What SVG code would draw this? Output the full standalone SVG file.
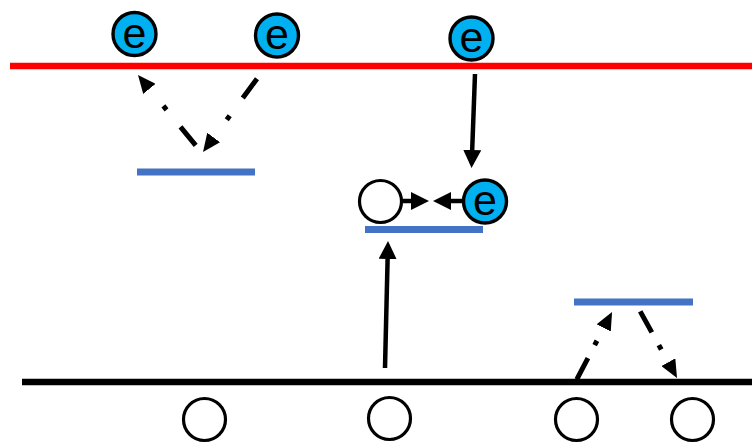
<svg xmlns="http://www.w3.org/2000/svg" width="752" height="443" viewBox="0 0 752 443">
<style>
.band{stroke-width:6.5;fill:none}
.lvl{stroke:#4472C4;stroke-width:7;fill:none}
.ec{fill:#00B0F0;stroke:#000;stroke-width:3.4}
.h{fill:#fff;stroke:#000;stroke-width:3.2}
.et{font-family:"Liberation Sans",Arial,sans-serif;font-size:43px;fill:#000;text-anchor:middle}
.sol{stroke:#000;stroke-width:4.5;fill:none;marker-end:url(#ah)}
.dd{stroke:#000;stroke-width:5;fill:none;marker-end:url(#ah2)}
.ddl{stroke-dasharray:24 22 5 22}
.dds{stroke-dasharray:24 14.5 5 14.5}
</style>
<defs>
<marker id="ah" markerUnits="userSpaceOnUse" viewBox="0 -9 18 18" markerWidth="18" markerHeight="18" refX="0" refY="0" orient="auto"><path d="M0,-9 L18,0 L0,9 z" fill="#000"/></marker>
<marker id="ah2" markerUnits="userSpaceOnUse" viewBox="0 -8 18 16" markerWidth="18" markerHeight="16" refX="0" refY="0" orient="auto"><path d="M0,-8 L18,0 L0,8 z" fill="#000"/></marker>
</defs>
<rect width="752" height="443" fill="#fff"/>
<g id="bands">
<line class="band" x1="10" y1="66" x2="752" y2="66" stroke="#FF0000"/>
<line class="band" x1="22" y1="382" x2="752" y2="382" stroke="#000" stroke-width="7"/>
</g>
<g id="levels">
<line class="lvl" x1="137" y1="172" x2="255" y2="172"/>
<line class="lvl" x1="365" y1="229.5" x2="483" y2="229.5"/>
<line class="lvl" x1="574" y1="302" x2="693" y2="302"/>
</g>
<g id="connectors">
<line class="dd ddl" x1="257" y1="78.7" x2="213.7" y2="137.5"/>
<line class="dd ddl" x1="195.7" y1="145.4" x2="149.4" y2="88.9"/>
<line class="dd dds" x1="576.8" y1="379.3" x2="603.7" y2="327.9"/>
<line class="dd dds" x1="640.2" y1="311.4" x2="668.3" y2="362.2"/>
<line class="sol" x1="475" y1="74" x2="472.2" y2="150"/>
<line class="sol" x1="385" y1="368" x2="387.6" y2="259"/>
<line class="sol" x1="401" y1="201" x2="411" y2="201"/>
<line class="sol" x1="464" y1="201" x2="451" y2="201"/>
</g>
<g id="e1"><circle class="ec" cx="134.5" cy="34" r="21.5"/><text class="et" x="134.5" y="47.5">e</text></g>
<g id="e2"><circle class="ec" cx="277" cy="35.5" r="21.5"/><text class="et" x="277" y="49">e</text></g>
<g id="e3"><circle class="ec" cx="471.5" cy="38.5" r="21.5"/><text class="et" x="471.5" y="52">e</text></g>
<g id="e4"><circle class="ec" cx="485" cy="201.5" r="21.5"/><text class="et" x="485" y="215">e</text></g>
<g id="hole"><circle class="h" cx="380.5" cy="201.5" r="21"/></g>
<g id="h1"><circle class="h" cx="204.5" cy="419.5" r="21"/></g>
<g id="h2"><circle class="h" cx="389.5" cy="418.5" r="21"/></g>
<g id="h3"><circle class="h" cx="576.5" cy="419.5" r="21"/></g>
<g id="h4"><circle class="h" cx="692.5" cy="419.5" r="21"/></g>
</svg>
